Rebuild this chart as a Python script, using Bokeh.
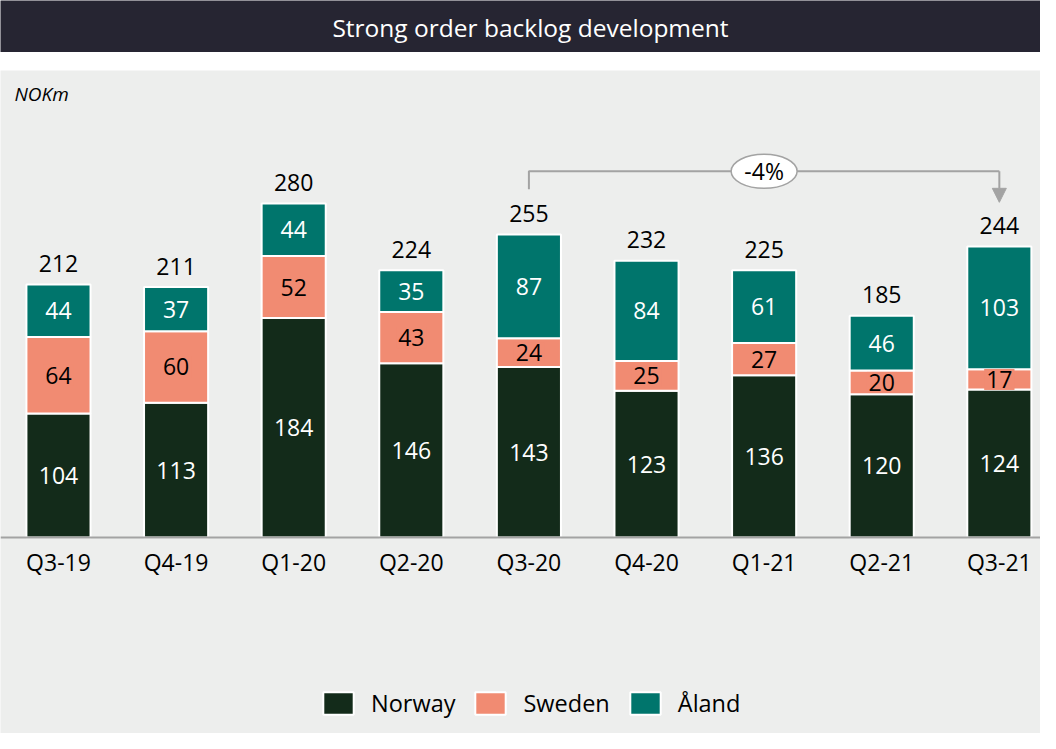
from bokeh.plotting import figure
from bokeh.models import (ColumnDataSource, Range1d, LinearAxis, FixedTicker, Label,
                          Arrow, NormalHead)
from bokeh.layouts import column
from bokeh.embed import file_html
from bokeh.resources import INLINE
from bokeh.core.properties import value

# ---------------- data ----------------
quarters = ["Q3-19", "Q4-19", "Q1-20", "Q2-20", "Q3-20", "Q4-20", "Q1-21", "Q2-21", "Q3-21"]
norway = [104, 113, 184, 146, 143, 123, 136, 120, 124]
sweden = [64, 60, 52, 43, 24, 25, 27, 20, 17]
aland = [44, 37, 44, 35, 87, 84, 61, 46, 103]
totals = [212, 211, 280, 224, 255, 232, 225, 185, 244]
series_names = ["Norway", "Sweden", "Åland"]
title_text = "Strong order backlog development"
unit_text = "NOKm"
compare_from, compare_to = 4, 8   # Q3-20 -> Q3-21

# ---------------- style ----------------
FONT = "Open Sans"
colors = ["#132B1A", "#F18B72", "#00756C"]
label_colors = ["#FFFFFF", "#000000", "#FFFFFF"]
GRAY_BG = "#EDEEED"
DARK = "#262532"
LINE_GREY = "#A3A3A3"
W = 1040
H_TITLE = 52
H_MAIN = 663
FS = "23px"

# ---------------- title bar ----------------
t = figure(width=W, height=H_TITLE, output_backend="svg", toolbar_location=None,
           x_axis_location=None, y_axis_location=None, min_border=0,
           background_fill_color=DARK, border_fill_color=DARK, outline_line_color=None,
           x_range=Range1d(0, 1), y_range=Range1d(0, 1))
t.xgrid.grid_line_color = None
t.ygrid.grid_line_color = None
t.add_layout(Label(x=W / 2 + 10, y=H_TITLE / 2 - 1, x_units="screen", y_units="screen",
                   text=title_text, text_align="center", text_baseline="middle",
                   text_color="white", text_font=FONT, text_font_size="24.5px"))

# ---------------- main chart ----------------
x = list(range(len(quarters)))
p = figure(width=W, height=H_MAIN, output_backend="svg", toolbar_location=None,
           x_axis_location=None, y_axis_location=None, min_border=0,
           background_fill_color=GRAY_BG, border_fill_color=GRAY_BG, outline_line_color=None,
           x_range=Range1d(-0.493, 8.35), y_range=Range1d(-164.3, 391.5))
p.xgrid.grid_line_color = None
p.ygrid.grid_line_color = None

src = ColumnDataSource(dict(x=x, norway=norway, sweden=sweden, aland=aland))
p.vbar_stack(["norway", "sweden", "aland"], x="x", width=0.545, source=src,
             fill_color=colors, line_color="white", line_width=2,
             legend_label=series_names)

# segment labels
cols = [norway, sweden, aland]
base = [0] * len(x)
for k, vals in enumerate(cols):
    mids = [b + v / 2 for b, v in zip(base, vals)]
    lsrc = ColumnDataSource(dict(x=x, y=mids, t=[str(v) for v in vals]))
    kw = {}
    if k == 1:
        kw = dict(background_fill_color=colors[1], padding=2)
    p.text(x="x", y="y", text="t", source=lsrc, text_align="center", text_baseline="middle",
           text_color=label_colors[k], text_font=value(FONT), text_font_size=FS, **kw)
    base = [b + v for b, v in zip(base, vals)]

# totals above bars
tsrc = ColumnDataSource(dict(x=x, y=base, t=[str(v) for v in totals]))
p.text(x="x", y="y", text="t", source=tsrc, text_align="center", text_baseline="alphabetic",
       y_offset=-21, text_color="#000000", text_font=value(FONT), text_font_size=FS)

# x axis at y=0
xaxis = LinearAxis(fixed_location=0, ticker=FixedTicker(ticks=x),
                   major_label_overrides={i: q for i, q in enumerate(quarters)})
xaxis.axis_line_color = LINE_GREY
xaxis.axis_line_width = 2
xaxis.major_tick_line_color = None
xaxis.minor_tick_line_color = None
xaxis.major_tick_out = 0
xaxis.major_tick_in = 0
xaxis.minor_tick_out = 0
xaxis.minor_tick_in = 0
xaxis.major_label_standoff = 8
xaxis.major_label_text_font = FONT
xaxis.major_label_text_font_size = FS
xaxis.major_label_text_color = "#000000"
p.add_layout(xaxis, "below")

# change bracket Q3-20 -> Q3-21
pct = round((totals[compare_to] / totals[compare_from] - 1) * 100)
y_h = max(totals[compare_from:compare_to + 1]) + 52
p.line(x=[compare_from, compare_from, compare_to], y=[totals[compare_from] + 37, y_h, y_h],
       line_color=LINE_GREY, line_width=2)
p.add_layout(Arrow(x_start=compare_to, y_start=y_h, x_end=compare_to, y_end=totals[compare_to] + 37,
                   line_color=LINE_GREY, line_width=2,
                   end=NormalHead(size=14, fill_color=LINE_GREY, line_color=LINE_GREY)))
xm = (compare_from + compare_to) / 2
p.ellipse(x=[xm], y=[y_h], width=66, height=34, width_units="screen", height_units="screen",
          fill_color="white", line_color=LINE_GREY, line_width=1.5)
p.text(x=[xm], y=[y_h], text=[f"{pct}%"], text_align="center", text_baseline="middle",
       text_color="#000000", text_font=value(FONT), text_font_size=FS)

# unit label
p.add_layout(Label(x=14, y=H_MAIN - 23, x_units="screen", y_units="screen", text=unit_text,
                   text_baseline="middle", text_font=FONT, text_font_style="italic",
                   text_font_size="19px", text_color="#000000"))

# legend
lg = p.legend[0]
lg.orientation = "horizontal"
lg.location = (319, 14)
lg.background_fill_alpha = 0
lg.border_line_color = None
lg.label_text_font = FONT
lg.label_text_font_size = "23.5px"
lg.label_text_color = "#000000"
lg.glyph_width = 38
lg.glyph_height = 28
lg.spacing = 16
lg.label_standoff = 14
lg.padding = 0
lg.margin = 0

layout = column(t, p, spacing=18)
open("out.html", "w").write(file_html(layout, INLINE))
